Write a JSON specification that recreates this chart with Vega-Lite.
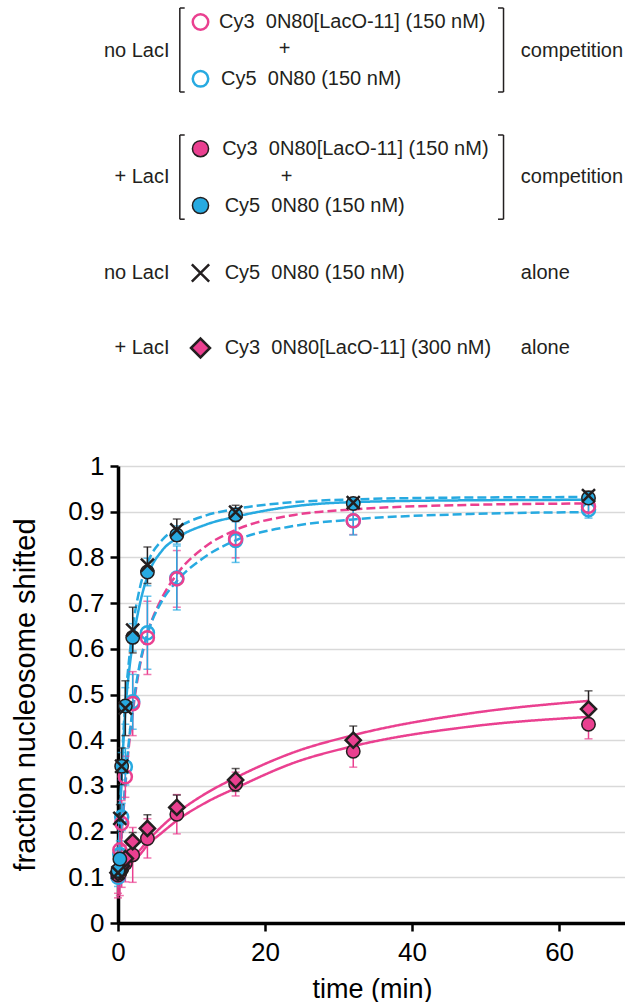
{
  "$schema": "https://vega.github.io/schema/vega-lite/v6.json",
  "autosize": {"type": "pad"},
  "padding": {"left": 11, "top": 0, "right": 0, "bottom": 0},
  "bounds": "flush",
  "spacing": 86,
  "config": {"font": "Liberation Sans", "view": {"stroke": null}},
  "datasets": {
    "legSym": [
      {"s": "c3n", "lx": 16.24, "ly": 2.2},
      {"s": "c5n", "lx": 16.24, "ly": 7.88},
      {"s": "c3l", "lx": 16.24, "ly": 14.87},
      {"s": "c5l", "lx": 16.24, "ly": 20.55},
      {"s": "c5a", "lx": 16.24, "ly": 27.3},
      {"s": "c3a", "lx": 16.24, "ly": 34.8}
    ],
    "legLeft": [
      {"txt": "no LacI", "lx": 10.14, "ly": 5.06},
      {"txt": "+ LacI", "lx": 10.14, "ly": 17.7},
      {"txt": "no LacI", "lx": 10.14, "ly": 27.3},
      {"txt": "+ LacI", "lx": 10.14, "ly": 34.8}
    ],
    "legMain": [
      {"txt": "Cy3\u00a0 0N80[LacO-11] (150 nM)", "lx": 19.9, "ly": 2.2},
      {"txt": "Cy5\u00a0 0N80 (150 nM)", "lx": 20.3, "ly": 7.88},
      {"txt": "Cy3\u00a0 0N80[LacO-11] (150 nM)", "lx": 20.5, "ly": 14.87},
      {"txt": "Cy5\u00a0 0N80 (150 nM)", "lx": 21.0, "ly": 20.55},
      {"txt": "Cy5\u00a0 0N80 (150 nM)", "lx": 21.0, "ly": 27.3},
      {"txt": "Cy3\u00a0 0N80[LacO-11] (300 nM)", "lx": 21.0, "ly": 34.8}
    ],
    "legPlus": [
      {"txt": "+", "lx": 32.8, "ly": 4.89},
      {"txt": "+", "lx": 33.2, "ly": 17.7}
    ],
    "legRight": [
      {"txt": "competition", "lx": 79.3, "ly": 5.06},
      {"txt": "competition", "lx": 79.3, "ly": 17.7},
      {"txt": "alone", "lx": 79.3, "ly": 27.3},
      {"txt": "alone", "lx": 79.3, "ly": 34.8}
    ],
    "brV": [
      {"bx": 12.17, "b1": 0.8, "b2": 9.2},
      {"bx": 75.89, "b1": 0.8, "b2": 9.2},
      {"bx": 12.17, "b1": 13.5, "b2": 21.92},
      {"bx": 75.89, "b1": 13.5, "b2": 21.92}
    ],
    "brH": [
      {"bx1": 12.17, "bx2": 13.13, "by": 0.8},
      {"bx1": 12.17, "bx2": 13.13, "by": 9.2},
      {"bx1": 74.8, "bx2": 75.89, "by": 0.8},
      {"bx1": 74.8, "bx2": 75.89, "by": 9.2},
      {"bx1": 12.17, "bx2": 13.13, "by": 13.5},
      {"bx1": 12.17, "bx2": 13.13, "by": 21.92},
      {"bx1": 74.8, "bx2": 75.89, "by": 13.5},
      {"bx1": 74.8, "bx2": 75.89, "by": 21.92}
    ],
    "pts": [
      {"s": "c3n", "t": 0, "y": 0.105, "e": 0.04},
      {"s": "c3n", "t": 0.25, "y": 0.16, "e": 0.05},
      {"s": "c3n", "t": 0.5, "y": 0.218, "e": 0.05},
      {"s": "c3n", "t": 1, "y": 0.32, "e": 0.045},
      {"s": "c3n", "t": 2, "y": 0.48, "e": 0.07},
      {"s": "c3n", "t": 4, "y": 0.624, "e": 0.08},
      {"s": "c3n", "t": 8, "y": 0.753, "e": 0.062},
      {"s": "c3n", "t": 16, "y": 0.841, "e": 0.042},
      {"s": "c3n", "t": 32, "y": 0.88, "e": 0.03},
      {"s": "c3n", "t": 64, "y": 0.912, "e": 0.02},
      {"s": "c5n", "t": 0, "y": 0.1, "e": 0.02},
      {"s": "c5n", "t": 0.25, "y": 0.15, "e": 0.03},
      {"s": "c5n", "t": 0.5, "y": 0.232, "e": 0.03},
      {"s": "c5n", "t": 1, "y": 0.342, "e": 0.04},
      {"s": "c5n", "t": 2, "y": 0.484, "e": 0.06},
      {"s": "c5n", "t": 4, "y": 0.635, "e": 0.08},
      {"s": "c5n", "t": 8, "y": 0.755, "e": 0.07},
      {"s": "c5n", "t": 16, "y": 0.837, "e": 0.048},
      {"s": "c5n", "t": 32, "y": 0.88, "e": 0.031},
      {"s": "c5n", "t": 64, "y": 0.904, "e": 0.018},
      {"s": "c3l", "t": 0, "y": 0.105, "e": 0.05},
      {"s": "c3l", "t": 0.25, "y": 0.11, "e": 0.05},
      {"s": "c3l", "t": 0.5, "y": 0.118, "e": 0.04},
      {"s": "c3l", "t": 1, "y": 0.13, "e": 0.04},
      {"s": "c3l", "t": 2, "y": 0.149, "e": 0.06},
      {"s": "c3l", "t": 4, "y": 0.185, "e": 0.043},
      {"s": "c3l", "t": 8, "y": 0.238, "e": 0.043},
      {"s": "c3l", "t": 16, "y": 0.304, "e": 0.026},
      {"s": "c3l", "t": 32, "y": 0.376, "e": 0.035},
      {"s": "c3l", "t": 64, "y": 0.435, "e": 0.032},
      {"s": "c5l", "t": 0, "y": 0.115, "e": 0.02},
      {"s": "c5l", "t": 0.25, "y": 0.14, "e": 0.02},
      {"s": "c5l", "t": 0.5, "y": 0.343, "e": 0.03},
      {"s": "c5l", "t": 1, "y": 0.475, "e": 0.04},
      {"s": "c5l", "t": 2, "y": 0.625, "e": 0.03},
      {"s": "c5l", "t": 4, "y": 0.768, "e": 0.03},
      {"s": "c5l", "t": 8, "y": 0.849, "e": 0.02},
      {"s": "c5l", "t": 16, "y": 0.893, "e": 0.015},
      {"s": "c5l", "t": 32, "y": 0.918, "e": 0.01},
      {"s": "c5l", "t": 64, "y": 0.93, "e": 0.01},
      {"s": "c5a", "t": 0, "y": 0.11, "e": 0.02},
      {"s": "c5a", "t": 0.25, "y": 0.229, "e": 0.03},
      {"s": "c5a", "t": 0.5, "y": 0.343, "e": 0.04},
      {"s": "c5a", "t": 1, "y": 0.47, "e": 0.06},
      {"s": "c5a", "t": 2, "y": 0.641, "e": 0.05},
      {"s": "c5a", "t": 4, "y": 0.783, "e": 0.04},
      {"s": "c5a", "t": 8, "y": 0.86, "e": 0.024},
      {"s": "c5a", "t": 16, "y": 0.899, "e": 0.015},
      {"s": "c5a", "t": 32, "y": 0.92, "e": 0.01},
      {"s": "c5a", "t": 64, "y": 0.935, "e": 0.01},
      {"s": "c3a", "t": 0, "y": 0.11, "e": 0.02},
      {"s": "c3a", "t": 0.25, "y": 0.115, "e": 0.02},
      {"s": "c3a", "t": 0.5, "y": 0.125, "e": 0.02},
      {"s": "c3a", "t": 1, "y": 0.141, "e": 0.02},
      {"s": "c3a", "t": 2, "y": 0.178, "e": 0.02},
      {"s": "c3a", "t": 4, "y": 0.207, "e": 0.03},
      {"s": "c3a", "t": 8, "y": 0.253, "e": 0.027},
      {"s": "c3a", "t": 16, "y": 0.313, "e": 0.025},
      {"s": "c3a", "t": 32, "y": 0.4, "e": 0.031},
      {"s": "c3a", "t": 64, "y": 0.468, "e": 0.04}
    ],
    "fits": [
      {"c": "bsol", "t": 0, "y": 0.11}, {"c": "bsol", "t": 0.25, "y": 0.22}, {"c": "bsol", "t": 0.5, "y": 0.32}, {"c": "bsol", "t": 0.75, "y": 0.4}, {"c": "bsol", "t": 1, "y": 0.465}, {"c": "bsol", "t": 1.5, "y": 0.55}, {"c": "bsol", "t": 2, "y": 0.612}, {"c": "bsol", "t": 3, "y": 0.7}, {"c": "bsol", "t": 4, "y": 0.758}, {"c": "bsol", "t": 6, "y": 0.815}, {"c": "bsol", "t": 8, "y": 0.842}, {"c": "bsol", "t": 12, "y": 0.872}, {"c": "bsol", "t": 16, "y": 0.889}, {"c": "bsol", "t": 24, "y": 0.912}, {"c": "bsol", "t": 32, "y": 0.921}, {"c": "bsol", "t": 48, "y": 0.925}, {"c": "bsol", "t": 64, "y": 0.926},
      {"c": "bdup", "t": 0, "y": 0.11}, {"c": "bdup", "t": 0.25, "y": 0.23}, {"c": "bdup", "t": 0.5, "y": 0.335}, {"c": "bdup", "t": 0.75, "y": 0.42}, {"c": "bdup", "t": 1, "y": 0.485}, {"c": "bdup", "t": 1.5, "y": 0.575}, {"c": "bdup", "t": 2, "y": 0.645}, {"c": "bdup", "t": 3, "y": 0.735}, {"c": "bdup", "t": 4, "y": 0.787}, {"c": "bdup", "t": 6, "y": 0.838}, {"c": "bdup", "t": 8, "y": 0.864}, {"c": "bdup", "t": 12, "y": 0.892}, {"c": "bdup", "t": 16, "y": 0.906}, {"c": "bdup", "t": 24, "y": 0.921}, {"c": "bdup", "t": 32, "y": 0.927}, {"c": "bdup", "t": 48, "y": 0.931}, {"c": "bdup", "t": 64, "y": 0.932},
      {"c": "pdash", "t": 0, "y": 0.1}, {"c": "pdash", "t": 0.25, "y": 0.14}, {"c": "pdash", "t": 0.5, "y": 0.19}, {"c": "pdash", "t": 0.75, "y": 0.245}, {"c": "pdash", "t": 1, "y": 0.3}, {"c": "pdash", "t": 1.5, "y": 0.39}, {"c": "pdash", "t": 2, "y": 0.46}, {"c": "pdash", "t": 3, "y": 0.565}, {"c": "pdash", "t": 4, "y": 0.632}, {"c": "pdash", "t": 6, "y": 0.712}, {"c": "pdash", "t": 8, "y": 0.763}, {"c": "pdash", "t": 12, "y": 0.825}, {"c": "pdash", "t": 16, "y": 0.86}, {"c": "pdash", "t": 24, "y": 0.893}, {"c": "pdash", "t": 32, "y": 0.905}, {"c": "pdash", "t": 48, "y": 0.915}, {"c": "pdash", "t": 64, "y": 0.918},
      {"c": "bdlo", "t": 0, "y": 0.1}, {"c": "bdlo", "t": 0.25, "y": 0.15}, {"c": "bdlo", "t": 0.5, "y": 0.2}, {"c": "bdlo", "t": 0.75, "y": 0.255}, {"c": "bdlo", "t": 1, "y": 0.31}, {"c": "bdlo", "t": 1.5, "y": 0.4}, {"c": "bdlo", "t": 2, "y": 0.47}, {"c": "bdlo", "t": 3, "y": 0.57}, {"c": "bdlo", "t": 4, "y": 0.632}, {"c": "bdlo", "t": 6, "y": 0.705}, {"c": "bdlo", "t": 8, "y": 0.748}, {"c": "bdlo", "t": 12, "y": 0.803}, {"c": "bdlo", "t": 16, "y": 0.837}, {"c": "bdlo", "t": 24, "y": 0.869}, {"c": "bdlo", "t": 32, "y": 0.883}, {"c": "bdlo", "t": 48, "y": 0.895}, {"c": "bdlo", "t": 64, "y": 0.899},
      {"c": "psu", "t": 0, "y": 0.11}, {"c": "psu", "t": 0.25, "y": 0.114}, {"c": "psu", "t": 0.5, "y": 0.118}, {"c": "psu", "t": 0.75, "y": 0.122}, {"c": "psu", "t": 1, "y": 0.126}, {"c": "psu", "t": 1.5, "y": 0.134}, {"c": "psu", "t": 2, "y": 0.142}, {"c": "psu", "t": 3, "y": 0.16}, {"c": "psu", "t": 4, "y": 0.179}, {"c": "psu", "t": 6, "y": 0.212}, {"c": "psu", "t": 8, "y": 0.24}, {"c": "psu", "t": 12, "y": 0.284}, {"c": "psu", "t": 16, "y": 0.318}, {"c": "psu", "t": 24, "y": 0.374}, {"c": "psu", "t": 32, "y": 0.411}, {"c": "psu", "t": 48, "y": 0.459}, {"c": "psu", "t": 64, "y": 0.486},
      {"c": "psl", "t": 0, "y": 0.105}, {"c": "psl", "t": 0.25, "y": 0.109}, {"c": "psl", "t": 0.5, "y": 0.113}, {"c": "psl", "t": 0.75, "y": 0.117}, {"c": "psl", "t": 1, "y": 0.12}, {"c": "psl", "t": 1.5, "y": 0.127}, {"c": "psl", "t": 2, "y": 0.134}, {"c": "psl", "t": 3, "y": 0.15}, {"c": "psl", "t": 4, "y": 0.17}, {"c": "psl", "t": 6, "y": 0.198}, {"c": "psl", "t": 8, "y": 0.224}, {"c": "psl", "t": 12, "y": 0.264}, {"c": "psl", "t": 16, "y": 0.295}, {"c": "psl", "t": 24, "y": 0.351}, {"c": "psl", "t": 32, "y": 0.387}, {"c": "psl", "t": 48, "y": 0.43}, {"c": "psl", "t": 64, "y": 0.451}
    ]
  },
  "vconcat": [
    {
      "width": 508,
      "height": 380,
      "layer": [
        {
          "data": {"name": "brV"},
          "mark": {"type": "rule", "color": "#231f20", "strokeWidth": 1.5},
          "encoding": {
            "x": {"field": "bx", "type": "quantitative", "scale": {"domain": [0, 100], "nice": false, "zero": false}, "axis": null},
            "y": {"field": "b1", "type": "quantitative", "scale": {"domain": [0, 38], "reverse": true, "nice": false, "zero": false}, "axis": null},
            "y2": {"field": "b2"}
          }
        },
        {
          "data": {"name": "brH"},
          "mark": {"type": "rule", "color": "#231f20", "strokeWidth": 1.5},
          "encoding": {
            "x": {"field": "bx1", "type": "quantitative"},
            "x2": {"field": "bx2"},
            "y": {"field": "by", "type": "quantitative"}
          }
        },
        {
          "data": {"name": "legLeft"},
          "mark": {"type": "text", "align": "right", "baseline": "middle", "fontSize": 20, "color": "#231f20"},
          "encoding": {
            "x": {"field": "lx", "type": "quantitative"},
            "y": {"field": "ly", "type": "quantitative"},
            "text": {"field": "txt"}
          }
        },
        {
          "data": {"name": "legMain"},
          "mark": {"type": "text", "align": "left", "baseline": "middle", "fontSize": 20, "color": "#231f20"},
          "encoding": {
            "x": {"field": "lx", "type": "quantitative"},
            "y": {"field": "ly", "type": "quantitative"},
            "text": {"field": "txt"}
          }
        },
        {
          "data": {"name": "legPlus"},
          "mark": {"type": "text", "align": "center", "baseline": "middle", "fontSize": 20, "color": "#231f20"},
          "encoding": {
            "x": {"field": "lx", "type": "quantitative"},
            "y": {"field": "ly", "type": "quantitative"},
            "text": {"field": "txt"}
          }
        },
        {
          "data": {"name": "legRight"},
          "mark": {"type": "text", "align": "left", "baseline": "middle", "fontSize": 20, "color": "#231f20"},
          "encoding": {
            "x": {"field": "lx", "type": "quantitative"},
            "y": {"field": "ly", "type": "quantitative"},
            "text": {"field": "txt"}
          }
        },
        {
          "data": {"name": "legSym"},
          "transform": [{"filter": "datum.s === 'c3n'"}],
          "mark": {"type": "point", "shape": "circle", "filled": false, "stroke": "#EA4090", "strokeWidth": 2.5, "size": 240, "opacity": 1},
          "encoding": {"x": {"field": "lx", "type": "quantitative"}, "y": {"field": "ly", "type": "quantitative"}}
        },
        {
          "data": {"name": "legSym"},
          "transform": [{"filter": "datum.s === 'c5n'"}],
          "mark": {"type": "point", "shape": "circle", "filled": false, "stroke": "#27AAE1", "strokeWidth": 2.5, "size": 240, "opacity": 1},
          "encoding": {"x": {"field": "lx", "type": "quantitative"}, "y": {"field": "ly", "type": "quantitative"}}
        },
        {
          "data": {"name": "legSym"},
          "transform": [{"filter": "datum.s === 'c3l'"}],
          "mark": {"type": "point", "shape": "circle", "filled": true, "fill": "#EA4090", "stroke": "#231f20", "strokeWidth": 1.5, "size": 260, "opacity": 1},
          "encoding": {"x": {"field": "lx", "type": "quantitative"}, "y": {"field": "ly", "type": "quantitative"}}
        },
        {
          "data": {"name": "legSym"},
          "transform": [{"filter": "datum.s === 'c5l'"}],
          "mark": {"type": "point", "shape": "circle", "filled": true, "fill": "#27AAE1", "stroke": "#231f20", "strokeWidth": 1.5, "size": 260, "opacity": 1},
          "encoding": {"x": {"field": "lx", "type": "quantitative"}, "y": {"field": "ly", "type": "quantitative"}}
        },
        {
          "data": {"name": "legSym"},
          "transform": [{"filter": "datum.s === 'c5a'"}],
          "mark": {"type": "point", "shape": "M-1,-1L1,1M1,-1L-1,1", "filled": false, "stroke": "#231f20", "strokeWidth": 2.5, "size": 300, "opacity": 1},
          "encoding": {"x": {"field": "lx", "type": "quantitative"}, "y": {"field": "ly", "type": "quantitative"}}
        },
        {
          "data": {"name": "legSym"},
          "transform": [{"filter": "datum.s === 'c3a'"}],
          "mark": {"type": "point", "shape": "diamond", "filled": true, "fill": "#EA4090", "stroke": "#231f20", "strokeWidth": 2.5, "size": 360, "opacity": 1},
          "encoding": {"x": {"field": "lx", "type": "quantitative"}, "y": {"field": "ly", "type": "quantitative"}}
        }
      ]
    },
    {
      "width": 508,
      "height": 457,
      "encoding": {
        "x": {
          "field": "t", "type": "quantitative",
          "scale": {"domain": [0, 69.1], "nice": false, "zero": false},
          "axis": {
            "title": "time (min)", "values": [0, 20, 40, 60], "grid": false,
            "domainColor": "black", "domainWidth": 3.5, "tickColor": "black", "tickWidth": 2.5, "tickSize": 8,
            "labelFontSize": 26, "labelColor": "black", "labelPadding": 8, "labelFlush": false, "labelOverlap": false,
            "titleFontSize": 27, "titleFontWeight": "normal", "titleColor": "black", "titlePadding": 11
          }
        },
        "y": {
          "field": "y", "type": "quantitative",
          "scale": {"domain": [0, 1], "nice": false, "zero": false},
          "axis": {
            "title": "fraction nucleosome shifted", "values": [0, 0.1, 0.2, 0.3, 0.4, 0.5, 0.6, 0.7, 0.8, 0.9, 1], "format": "~g",
            "grid": true, "gridColor": "#d9d9d9", "gridWidth": 1.5,
            "domainColor": "black", "domainWidth": 3.5, "tickColor": "black", "tickWidth": 2.5, "tickSize": 8,
            "labelFontSize": 26, "labelColor": "black", "labelPadding": 6, "labelFlush": false, "labelOverlap": false,
            "titleFontSize": 29, "titleFontWeight": "normal", "titleColor": "black", "titlePadding": 27
          }
        }
      },
      "layer": [
        {
          "data": {"name": "fits"},
          "mark": {"type": "line", "strokeWidth": 2.5, "interpolate": "monotone"},
          "encoding": {
            "color": {"field": "c", "type": "nominal", "legend": null,
              "scale": {"domain": ["c3n", "c5n", "c3l", "c5l", "c5a", "c3a", "bsol", "bdup", "pdash", "bdlo", "psu", "psl"],
                        "range": ["#EA4090", "#27AAE1", "#EA4090", "#27AAE1", "#231f20", "#231f20", "#27AAE1", "#27AAE1", "#EA4090", "#27AAE1", "#EA4090", "#EA4090"]}},
            "strokeDash": {"field": "c", "type": "nominal", "legend": null,
              "scale": {"domain": ["bsol", "bdup", "pdash", "bdlo", "psu", "psl"],
                        "range": [[1, 0], [9, 4], [9, 4], [9, 4], [1, 0], [1, 0]]}}
          }
        },
        {
          "data": {"name": "pts"},
          "mark": {"type": "errorbar", "ticks": {"size": 8, "thickness": 1.5}, "rule": {"strokeWidth": 1.5}},
          "encoding": {
            "yError": {"field": "e"},
            "color": {"field": "s", "type": "nominal", "legend": null,
              "scale": {"domain": ["c3n", "c5n", "c3l", "c5l", "c5a", "c3a", "bsol", "bdup", "pdash", "bdlo", "psu", "psl"],
                        "range": ["#EA4090", "#27AAE1", "#EA4090", "#27AAE1", "#231f20", "#231f20", "#27AAE1", "#27AAE1", "#EA4090", "#27AAE1", "#EA4090", "#EA4090"]}}
          }
        },
        {
          "data": {"name": "pts"},
          "transform": [{"filter": "datum.s === 'c5n'"}],
          "mark": {"type": "point", "shape": "circle", "filled": false, "stroke": "#27AAE1", "strokeWidth": 2.5, "size": 170, "opacity": 1}
        },
        {
          "data": {"name": "pts"},
          "transform": [{"filter": "datum.s === 'c3n'"}],
          "mark": {"type": "point", "shape": "circle", "filled": false, "stroke": "#EA4090", "strokeWidth": 2.5, "size": 170, "opacity": 1}
        },
        {
          "data": {"name": "pts"},
          "transform": [{"filter": "datum.s === 'c3l'"}],
          "mark": {"type": "point", "shape": "circle", "filled": true, "fill": "#EA4090", "stroke": "#231f20", "strokeWidth": 1.5, "size": 180, "opacity": 1}
        },
        {
          "data": {"name": "pts"},
          "transform": [{"filter": "datum.s === 'c3a'"}],
          "mark": {"type": "point", "shape": "diamond", "filled": true, "fill": "#EA4090", "stroke": "#231f20", "strokeWidth": 2.5, "size": 230, "opacity": 1}
        },
        {
          "data": {"name": "pts"},
          "transform": [{"filter": "datum.s === 'c5l'"}],
          "mark": {"type": "point", "shape": "circle", "filled": true, "fill": "#27AAE1", "stroke": "#231f20", "strokeWidth": 1.5, "size": 180, "opacity": 1}
        },
        {
          "data": {"name": "pts"},
          "transform": [{"filter": "datum.s === 'c5a'"}],
          "mark": {"type": "point", "shape": "M-1,-1L1,1M1,-1L-1,1", "filled": false, "stroke": "#231f20", "strokeWidth": 2.5, "size": 170, "opacity": 1}
        }
      ]
    }
  ]
}
